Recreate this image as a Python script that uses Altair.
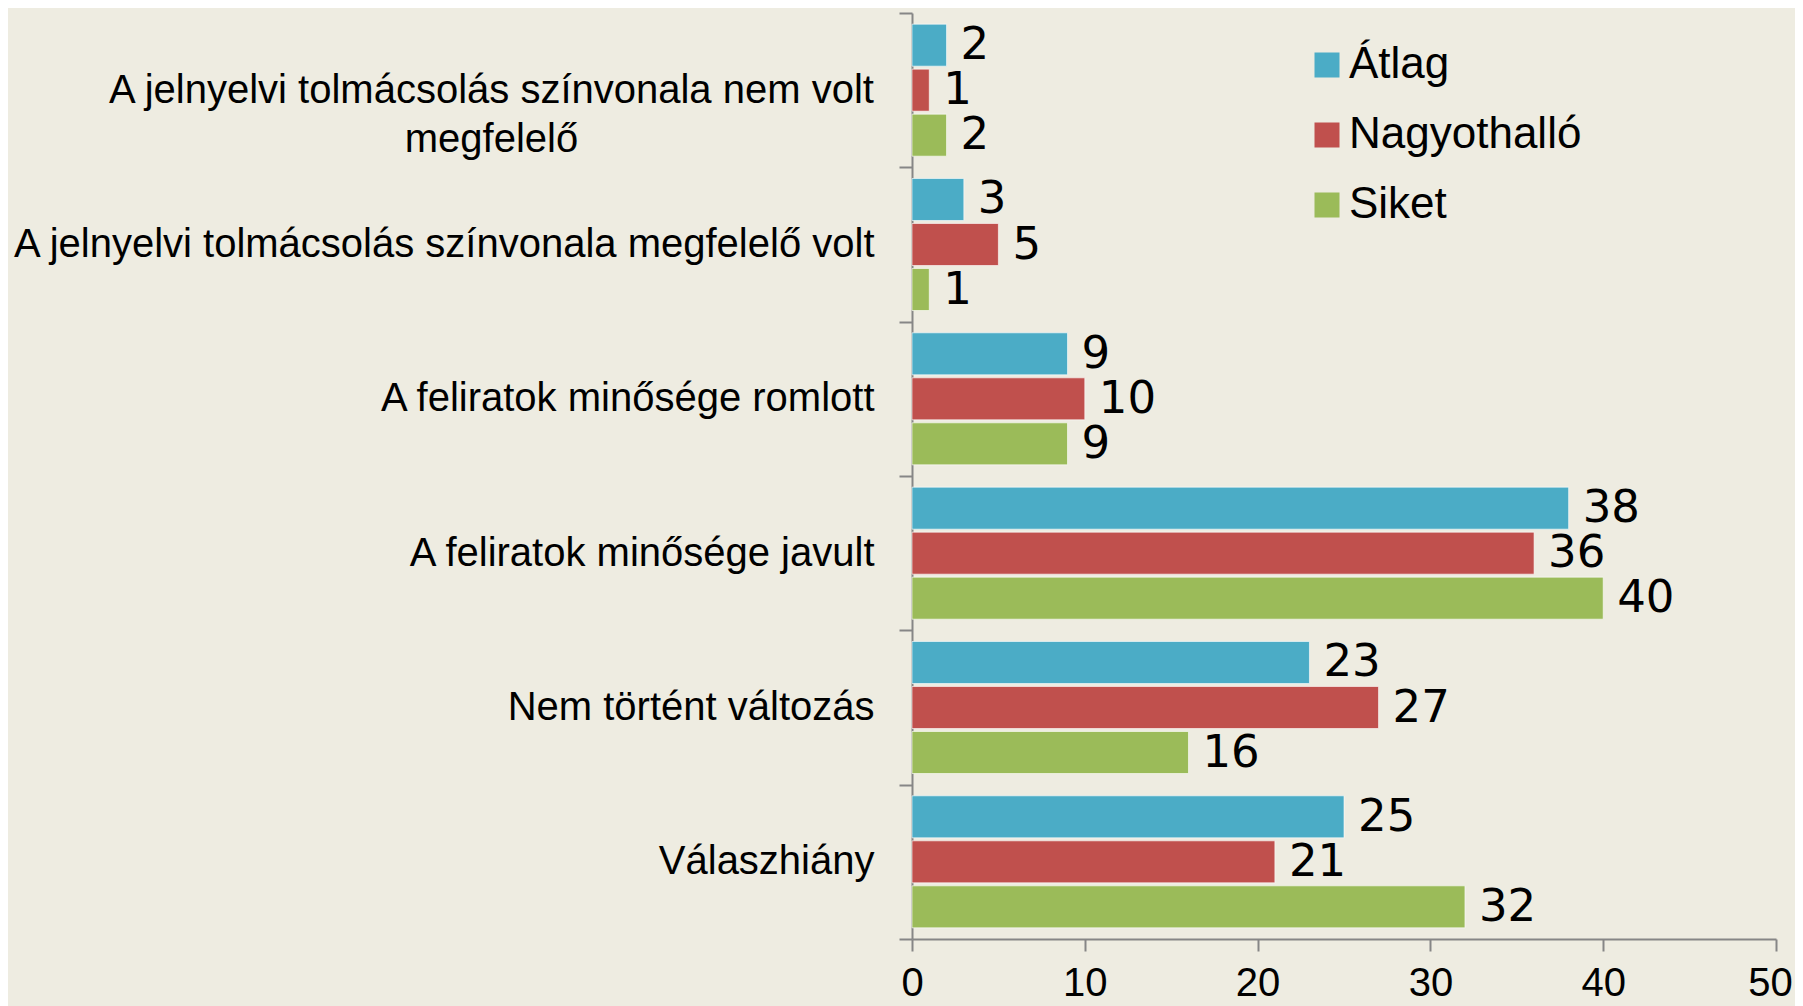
import altair as alt
import pandas as pd

categories = [
    "A jelnyelvi tolmácsolás színvonala nem volt megfelelő",
    "A jelnyelvi tolmácsolás színvonala megfelelő volt",
    "A feliratok minősége romlott",
    "A feliratok minősége javult",
    "Nem történt változás",
    "Válaszhiány",
]
series = ["Átlag", "Nagyothalló", "Siket"]
atlag = [2, 3, 9, 38, 23, 25]
nagyothallo = [1, 5, 10, 36, 27, 21]
siket = [2, 1, 9, 40, 16, 32]
colors = ["#4BACC6", "#C0504D", "#9BBB59"]
x_ticks = [0, 10, 20, 30, 40, 50]

rows = []
for name, vals in zip(series, [atlag, nagyothallo, siket]):
    for c, v in zip(categories, vals):
        rows.append({"cat": c, "series": name, "value": v})
df = pd.DataFrame(rows)

FONT = "Liberation Sans"
NUMFONT = "DejaVu Sans"
first = categories[0]

y_enc = alt.Y(
    "cat:N",
    sort=categories,
    scale=alt.Scale(domain=categories, paddingInner=0, paddingOuter=0),
    axis=alt.Axis(
        title=None,
        tickBand="extent",
        tickSize=13,
        tickWidth=2,
        tickColor="#868686",
        domainColor="#868686",
        domainWidth=2,
        labelFont=FONT,
        labelFontSize=40,
        labelColor="#000000",
        labelLineHeight=49,
        labelLimit=1000,
        labelAlign={"condition": {"test": f"datum.value === '{first}'", "value": "center"}, "value": "right"},
        labelPadding={"condition": {"test": f"datum.value === '{first}'", "value": 408}, "value": 25},
        labelExpr=f"datum.value === '{first}' ? ['A jelnyelvi tolmácsolás színvonala nem volt', 'megfelelő'] : datum.label",
    ),
)
yoff = alt.YOffset(
    "series:N",
    sort=series,
    scale=alt.Scale(domain=series, paddingInner=0.0667, paddingOuter=0.248),
)
x_enc = alt.X(
    "value:Q",
    scale=alt.Scale(domain=[0, 50], nice=False),
    axis=alt.Axis(
        title=None,
        values=x_ticks,
        grid=False,
        tickSize=12,
        tickWidth=2,
        tickColor="#868686",
        domainColor="#868686",
        domainWidth=2,
        labelFont=FONT,
        labelFontSize=40,
        labelColor="#000000",
        labelPadding=12,
        labelFlush=False,
        labelOffset={"condition": {"test": "datum.value === 50", "value": -6}, "value": 0},
    ),
)

base = alt.Chart(df)

bars = base.mark_bar(stroke="#ffffff", strokeOpacity=0.6, strokeWidth=1).encode(
    x=x_enc,
    y=y_enc,
    yOffset=yoff,
    color=alt.Color(
        "series:N",
        sort=series,
        scale=alt.Scale(domain=series, range=colors),
        legend=alt.Legend(
            title=None,
            orient="none",
            legendX=393,
            legendY=30,
            padding=0,
            symbolType="square",
            symbolSize=625,
            symbolStrokeWidth=0,
            labelFont=FONT,
            labelFontSize=44,
            labelColor="#000000",
            labelOffset=0,
            rowPadding=26,
            labelLimit=400,
        ),
    ),
)

labels = base.mark_text(
    align="left", baseline="middle", dx=14, font=NUMFONT, fontSize=45, color="#000000"
).encode(
    x="value:Q",
    y=alt.Y("cat:N", sort=categories),
    yOffset=alt.YOffset("series:N", sort=series),
    text="value:Q",
)

chart = (
    alt.layer(bars, labels)
    .properties(
        width=864,
        height=926,
        background="#EEECE1",
        autosize=alt.AutoSizeParams(type="none"),
        padding={"left": 904, "top": 5, "right": 19, "bottom": 72},
    )
    .configure_view(stroke=None)
)

chart.save("out.html", embed_options={"renderer": "svg", "actions": False})
